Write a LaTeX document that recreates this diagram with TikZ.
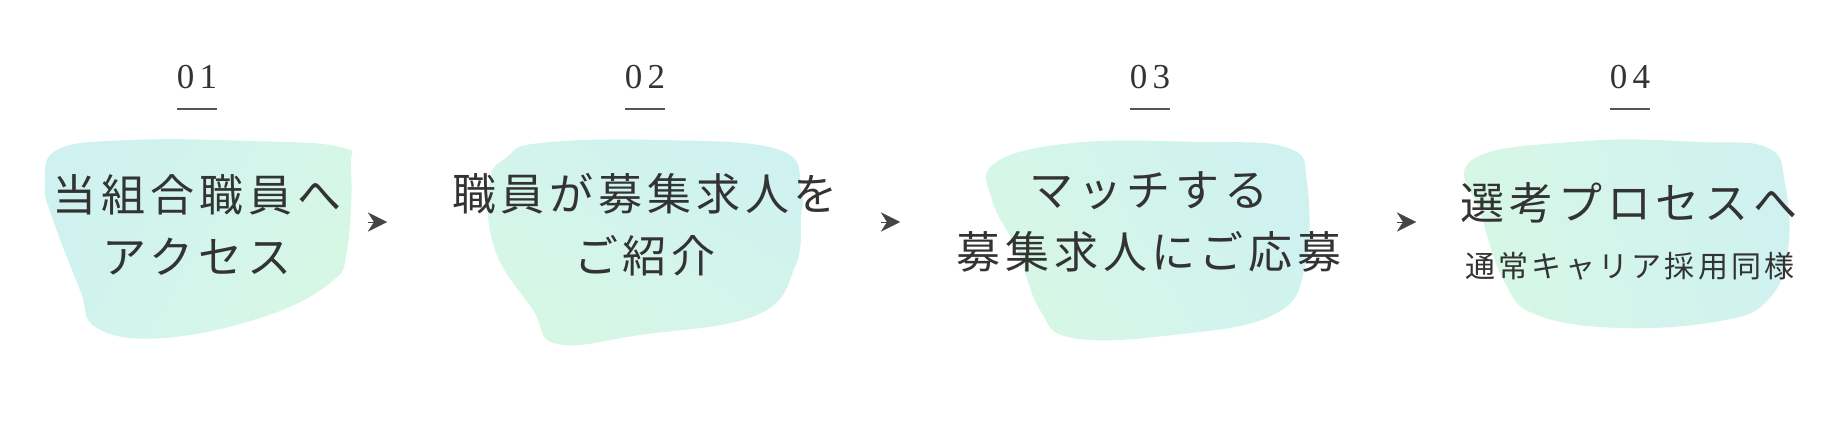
\documentclass[tikz,border=0pt]{standalone}
\usepackage{fontspec}
\newfontfamily\jpfont[LetterSpace=11]{Noto Sans CJK JP}
\newfontfamily\numfont[LetterSpace=15]{Liberation Serif}
\usetikzlibrary{arrows.meta}
\definecolor{inkgray}{HTML}{333333}
\definecolor{rulegray}{HTML}{555555}
\definecolor{arrowgray}{HTML}{444444}
\definecolor{blobcyan}{HTML}{CFF2F1}
\definecolor{blobmint}{HTML}{D7F7E5}
\tikzset{
 steptext/.style={text=inkgray, align=center, inner sep=0, font=\jpfont\fontsize{22}{31}\selectfont},
 subtext/.style={text=inkgray, inner sep=0, font=\jpfont\fontsize{15}{18}\selectfont},
 stepnum/.style={text=inkgray, inner sep=0, font=\numfont\fontsize{17.5}{20}\selectfont},
 flowarrow/.style={arrowgray, line width=.1pt, -{Stealth[length=9.5pt, width=9.5pt, inset=3pt]}}
}

\begin{document}
\begin{tikzpicture} [x=.5pt, y=-.5pt]
\useasboundingbox (0,0) rectangle (1840,440);
% watercolor blobs
\shade[left color=blobcyan, right color=blobmint, shading angle=60] plot[smooth cycle, tension=.7] coordinates {(57,150) (130,140) (250,141) (340,147) (351,168) (347,250) (330,283) (263,317) (163,338) (97,328) (80,290) (52,217) (45,185)};
\shade[left color=blobmint, right color=blobcyan, shading angle=150] plot[smooth cycle, tension=.7] coordinates {(507,157) (540,143) (660,140) (780,150) (801,190) (801,217) (795,267) (757,315) (640,335) (557,344) (533,310) (495,250) (489,183)};
\shade[left color=blobmint, right color=blobcyan, shading angle=120] plot[smooth cycle, tension=.7] coordinates {(995,163) (1073,143) (1200,142) (1288,148) (1307,183) (1305,267) (1273,315) (1173,335) (1073,338) (1040,310) (1017,250) (992,200)};
\shade[left color=blobmint, right color=blobcyan, shading angle=100] plot[smooth cycle, tension=.7] coordinates {(1472,160) (1587,141) (1700,142) (1768,148) (1785,183) (1788,250) (1768,300) (1720,321) (1620,328) (1537,315) (1505,283) (1482,217)};
% step numbers
\foreach \i/\x in {1/197, 2/645, 3/1150, 4/1630} {
 \node[stepnum] (num\i) at (\x,77) {0\i};
 \draw[rulegray, line width=1pt] (\x-20,109) --++(40,0);
}
% step texts
\node[steptext] (step1) at (197,225) {当組合職員へ\\アクセス};
\node[steptext] (step2) at (645,225) {職員が募集求人を\\ご紹介};
\node[steptext] (step3) at (1149,222) {マッチする\\募集求人にご応募};
\node[steptext] (step4) at (1629,203) {選考プロセスへ};
\node[subtext] (step4sub) at (1630,266) {通常キャリア採用同様};
% arrows
\coordinate (arr1a) at (368,222); \coordinate (arr1b) at (387,222);
\coordinate (arr2a) at (881,222); \coordinate (arr2b) at (900,222);
\coordinate (arr3a) at (1397,222); \coordinate (arr3b) at (1416,222);
\foreach \i in {1,2,3} \draw[flowarrow] (arr\i a) -- (arr\i b);
\end{tikzpicture}
\end{document}
